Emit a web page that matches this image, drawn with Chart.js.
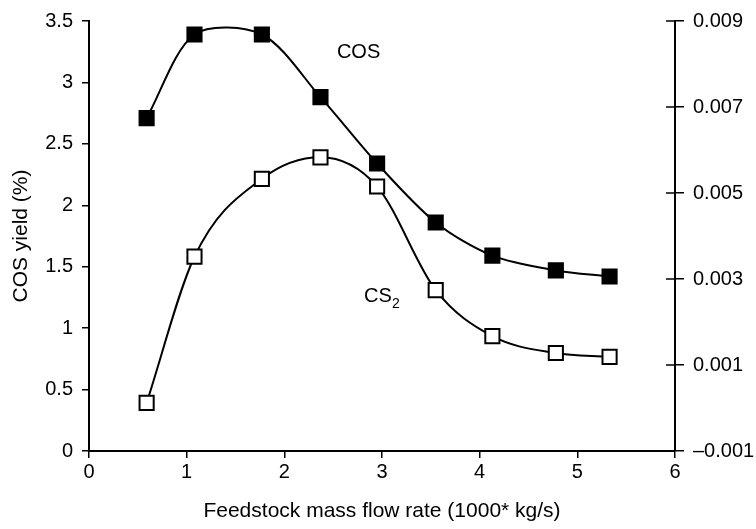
<!DOCTYPE html>
<html>
<head>
<meta charset="utf-8">
<script src="https://cdn.jsdelivr.net/npm/chart.js@4/dist/chart.umd.min.js"></script>
<style>
  body { margin: 0; background: #fff; }
</style>
</head>
<body>
<canvas id="chart" width="756" height="529"></canvas>
<script>
// Feedstock mass flow rate (1000* kg/s)
const flowRate = [0.59, 1.08, 1.77, 2.37, 2.95, 3.55, 4.13, 4.78, 5.33];
// COS yield (%), left axis
const cosYield = [2.71, 3.39, 3.39, 2.88, 2.34, 1.86, 1.59, 1.47, 1.42];
// CS2 yield, right axis
const cs2Yield = [0.00012, 0.00352, 0.00533, 0.00583, 0.00515, 0.00274, 0.00167, 0.00128, 0.00119];

// where the curve names sit (x, left axis value)
const cosLabelAt = [2.76, 3.24];
const cs2LabelAt = [3.0, 1.26];

const fontFamily = '"Liberation Sans", Arial, Helvetica, sans-serif';

function toPoints(xs, ys) {
  return xs.map((x, i) => ({ x: x, y: ys[i] }));
}

// right axis ticks go through the axis line, so draw the inside half too
const innerTicks = {
  id: 'innerTicks',
  afterDraw(chart) {
    const s = chart.scales.y2;
    const ctx = chart.ctx;
    ctx.save();
    ctx.strokeStyle = '#000';
    ctx.lineWidth = 1.5;
    s.ticks.forEach(t => {
      const py = s.getPixelForValue(t.value);
      ctx.beginPath();
      ctx.moveTo(s.left - 9, py);
      ctx.lineTo(s.left, py);
      ctx.stroke();
    });
    ctx.restore();
  }
};

// curve names
const curveLabels = {
  id: 'curveLabels',
  afterDatasetsDraw(chart) {
    const ctx = chart.ctx;
    const xs = chart.scales.x, ys = chart.scales.y;
    ctx.save();
    ctx.fillStyle = '#000';
    ctx.textBaseline = 'middle';
    ctx.font = '20px ' + fontFamily;
    ctx.textAlign = 'center';
    ctx.fillText('COS', xs.getPixelForValue(cosLabelAt[0]), ys.getPixelForValue(cosLabelAt[1]));

    const cx = xs.getPixelForValue(cs2LabelAt[0]);
    const cy = ys.getPixelForValue(cs2LabelAt[1]);
    const w = ctx.measureText('CS').width;
    ctx.textAlign = 'left';
    ctx.fillText('CS', cx - w / 2 - 4, cy);
    ctx.font = '14px ' + fontFamily;
    ctx.fillText('2', cx + w / 2 - 4, cy + 8);
    ctx.restore();
  }
};

const tickFont = { family: fontFamily, size: 20 };
const titleFont = { family: fontFamily, size: 21 };

new Chart(document.getElementById('chart'), {
  type: 'scatter',
  data: {
    datasets: [
      {
        label: 'COS',
        data: toPoints(flowRate, cosYield),
        yAxisID: 'y',
        showLine: true,
        tension: 0.3,
        borderColor: '#000',
        borderWidth: 2,
        pointStyle: 'rect',
        pointRadius: 10,
        pointBackgroundColor: '#000',
        pointBorderColor: '#000',
        pointBorderWidth: 2
      },
      {
        label: 'CS2',
        data: toPoints(flowRate, cs2Yield),
        yAxisID: 'y2',
        showLine: true,
        cubicInterpolationMode: 'monotone',
        borderColor: '#000',
        borderWidth: 2,
        pointStyle: 'rect',
        pointRadius: 10,
        pointBackgroundColor: '#fff',
        pointBorderColor: '#000',
        pointBorderWidth: 2
      }
    ]
  },
  options: {
    responsive: false,
    animation: false,
    clip: false,
    layout: { padding: { top: 16, left: 0, right: 0, bottom: 0 } },
    plugins: {
      legend: { display: false },
      tooltip: { enabled: false }
    },
    scales: {
      x: {
        type: 'linear',
        min: 0,
        max: 6,
        afterFit: s => { s.height = 78; },
        ticks: { stepSize: 1, color: '#000', font: tickFont, padding: 2, maxRotation: 0 },
        grid: { drawOnChartArea: false, tickLength: 7, color: '#000', lineWidth: 1.5 },
        border: { color: '#000', width: 2 },
        title: {
          display: true,
          text: 'Feedstock mass flow rate (1000* kg/s)',
          color: '#000',
          font: titleFont,
          padding: { top: 0, bottom: 5 }
        }
      },
      y: {
        position: 'left',
        min: 0,
        max: 3.5,
        afterFit: s => { s.width = 89; },
        ticks: {
          stepSize: 0.5,
          color: '#000',
          font: tickFont,
          padding: 9,
          callback: v => String(v)
        },
        grid: { drawOnChartArea: false, tickLength: 7, color: '#000', lineWidth: 1.5 },
        border: { color: '#000', width: 2 },
        title: {
          display: true,
          text: 'COS yield (%)',
          color: '#000',
          font: titleFont,
          padding: { top: 9, bottom: 0 }
        }
      },
      y2: {
        position: 'right',
        min: -0.001,
        max: 0.009,
        afterFit: s => { s.width = 81; },
        ticks: {
          stepSize: 0.002,
          color: '#000',
          font: tickFont,
          padding: 9,
          callback: v => (v < 0 ? '\u2013' : '') + Math.abs(v).toFixed(3)
        },
        grid: { drawOnChartArea: false, tickLength: 9, color: '#000', lineWidth: 1.5 },
        border: { color: '#000', width: 2 }
      }
    }
  },
  plugins: [innerTicks, curveLabels]
});
</script>
</body>
</html>
